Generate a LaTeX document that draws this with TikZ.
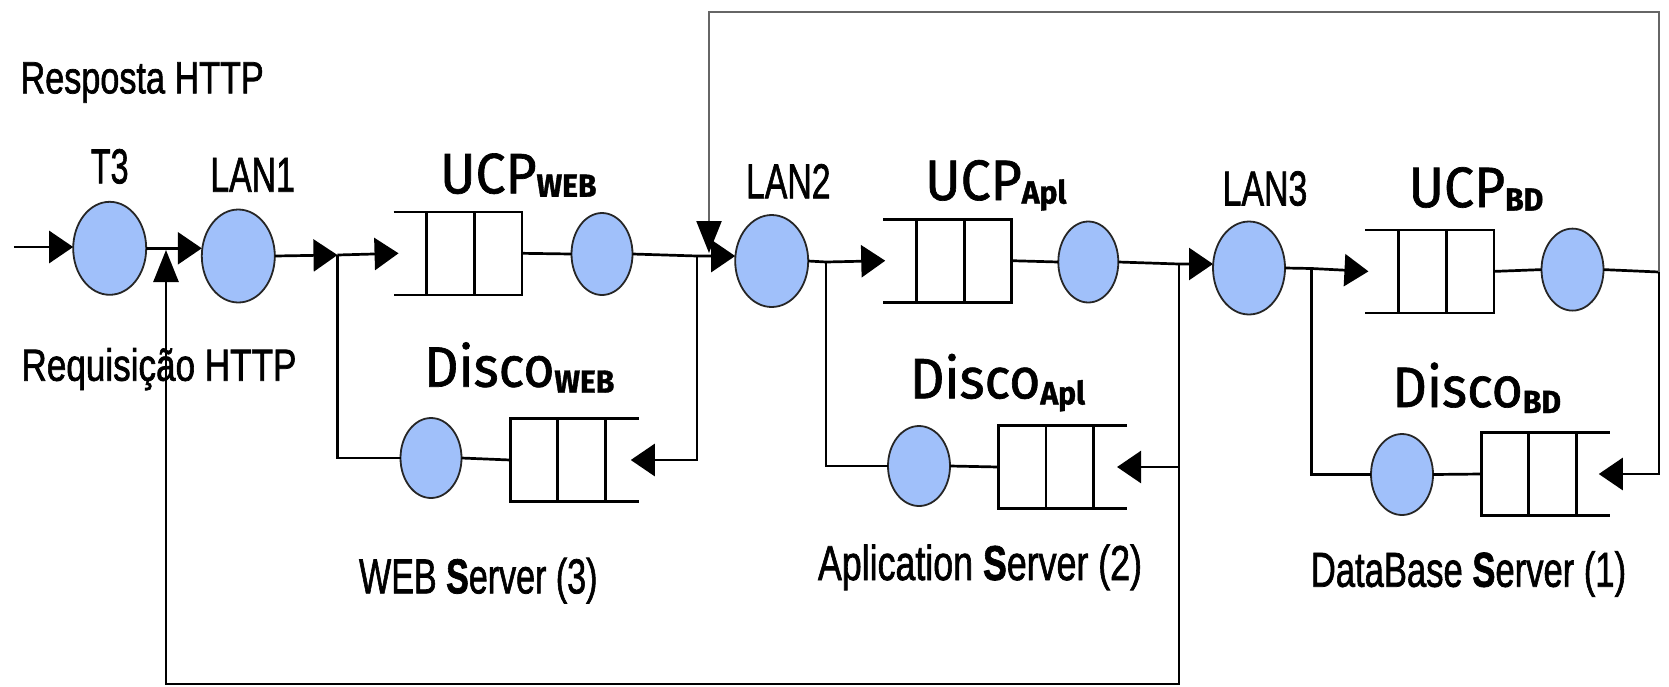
\documentclass[tikz,border=0pt]{standalone}
\usepackage{fontspec}
\setmainfont{Liberation Sans}
\newfontfamily\txtfont{Liberation Sans}[FakeBold=1.6]
\newfontfamily\labfont{Fira Sans}[FakeBold=1.2]
\usetikzlibrary{shapes.geometric,arrows.meta}
\definecolor{srvblue}{RGB}{160,192,250}

% queue with its open end on the left (arrivals come in from the left)
\newcommand\queueL[1]{%
  \draw[qline] (#1.north west) -- (#1.north east) -- (#1.south east) -- (#1.south west);
  \draw[qline] ([xshift=33pt]#1.north west) -- ([xshift=33pt]#1.south west);
  \draw[qline] ([xshift=-47.5pt]#1.north east) -- ([xshift=-47.5pt]#1.south east);}
% queue with its open end on the right (arrivals come in from the right)
\newcommand\queueR[1]{%
  \draw[qline] (#1.north east) -- (#1.north west) -- (#1.south west) -- (#1.south east);
  \draw[qline] ([xshift=47.5pt]#1.north west) -- ([xshift=47.5pt]#1.south west);
  \draw[qline] ([xshift=95pt]#1.north west) -- ([xshift=95pt]#1.south west);}

\begin{document}
\begin{tikzpicture}[x=1pt,y=-1pt,
  srv/.style={ellipse,draw=black!85,line width=1.8pt,fill=srvblue,inner sep=0pt,outer sep=0pt},
  queue/.style={rectangle,draw=none,minimum width=128.5pt,minimum height=83pt,inner sep=0pt,outer sep=0pt},
  qline/.style={line width=2.6pt,line join=miter},
  conn/.style={line width=2.7pt},
  fbl/.style={line width=2.2pt,draw=black!60},
  tip/.style={-{Triangle[length=24pt,width=32pt,color=black]}},
  vtip/.style={-{Triangle[length=32pt,width=25pt,color=black]}},
  plain/.style={inner sep=0pt,font=\txtfont\fontsize{49}{55}\selectfont,anchor=base},
  small/.style={inner sep=0pt,font=\txtfont\fontsize{45}{50}\selectfont,anchor=base},
  ucp/.style={inner sep=0pt,font=\labfont\fontsize{57}{60}\selectfont,anchor=base,xscale=0.94},
]
\useasboundingbox (0,0) rectangle (1669,686);

% ---- stations ----
\node[srv,minimum width=73pt,minimum height=93pt] (t3)   at (109.7,248.3) {};
\node[srv,minimum width=73pt,minimum height=93pt] (lan1) at (238.3,256) {};
\node[queue] (qw)  at (457.8,253.3) {};
\node[srv,minimum width=61pt,minimum height=82pt] (sw)   at (602,254) {};
\node[queue] (dqw) at (574.5,460) {};
\node[srv,minimum width=61pt,minimum height=80pt] (dsw)  at (431,458) {};
\node[srv,minimum width=73pt,minimum height=92pt] (lan2) at (771.7,261) {};
\node[queue] (qa)  at (947.5,260.7) {};
\node[srv,minimum width=60pt,minimum height=81pt] (sa)   at (1088.3,262) {};
\node[queue] (dqa) at (1062.8,467) {};
\node[srv,minimum width=62pt,minimum height=80pt] (dsa)  at (919,466) {};
\node[srv,minimum width=72pt,minimum height=93pt] (lan3) at (1249,268) {};
\node[queue] (qb)  at (1429.7,271.4) {};
\node[srv,minimum width=62pt,minimum height=82pt] (sb)   at (1572.5,269.6) {};
\node[queue] (dqb) at (1545.5,474) {};
\node[srv,minimum width=62pt,minimum height=81pt] (dsb)  at (1402,474.5) {};

\queueL{qw} \queueR{dqw}
\queueL{qa} \queueR{dqa}
\queueL{qb} \queueR{dqb}

% ---- junctions and corners ----
\coordinate (src)  at (13.8,247);
\coordinate (j1)   at (337.5,255);
\coordinate (j2)   at (697,256);
\coordinate (j3)   at (826,262);
\coordinate (j4)   at (1179,264);
\coordinate (j5)   at (1311.7,268.5);
\coordinate (j6)   at (1659,272);
\coordinate (tl)   at (709,12);
\coordinate (tr)   at (1659,12);
\coordinate (ftip) at (709,253);
\coordinate (bl)   at (166,684);
\coordinate (fb)   at (166,250);

% ---- flow ----
\draw[conn,tip] (src) -- (src -| t3.west);
\draw[conn,tip] (t3.east) -- (t3.east -| lan1.west);
\draw[conn,tip] (lan1.east) -- (j1);
\draw[conn,tip] (j1) -- ([xshift=5pt]qw.west);
\draw[conn] (qw.east) -- (sw.west);
\draw[conn,tip] (sw.east) -- (j2) -- (j2 -| lan2.west);
\draw[conn,tip] (j2) -- (j2 |- dqw) -- ([xshift=-8pt]dqw.east);
\draw[conn] (dqw.west) -- (dsw.east);
\draw[conn] (dsw.west) -- (dsw.west -| j1) -- (j1);

\draw[conn,tip] (lan2.east) -- (j3) -- ([xshift=2pt]qa.west);
\draw[conn] (qa.east) -- (sa.west);
\draw[conn,tip] (sa.east) -- (j4) -- (j4 -| lan3.west);
\draw[conn,tip] (j4) -- (j4 |- dqa) -- ([xshift=-10pt]dqa.east);
\draw[conn] (dqa.west) -- (dsa.east);
\draw[conn] (dsa.west) -- (dsa.west -| j3) -- (j3);

\draw[conn,tip] (lan3.east) -- (j5) -- ([xshift=3pt]qb.west);
\draw[conn] (qb.east) -- (sb.west);
\draw[conn] (sb.east) -- (j6);
\draw[conn,tip] (j6) -- (j6 |- dqb) -- ([xshift=-11pt]dqb.east);
\draw[conn] (dqb.west) -- (dsb.east);
\draw[conn] (dsb.west) -- (dsb.west -| j5) -- (j5);

% response loop over the top, request loop along the bottom
\draw[fbl,vtip] (j6) -- (tr) -- (tl) -- (ftip);
\draw[conn,vtip] (j4 |- dqa) -- (j4 |- bl) -- (bl) -- (fb);

% ---- labels ----
\node[small,anchor=base west,xscale=0.76] (resp) at (20.4,93.3) {Resposta HTTP};
\node[small,xscale=0.78] (req) at (159,380.7) {Requisição HTTP};
\node[plain,xscale=0.66] (lt3) at (109.7,183.3) {T3};
\node[plain,xscale=0.69] (llan1) at (252.6,191.7) {LAN1};
\node[plain,xscale=0.69] (llan2) at (788.3,198.3) {LAN2};
\node[plain,xscale=0.69] (llan3) at (1265,205.4) {LAN3};

\node[ucp] (lucpw) at (518.3,193.3) {UCP\raisebox{-3.5pt}{\fontsize{32}{32}\selectfont\bfseries WEB}};
\node[ucp] (lucpa) at (995.8,200) {UCP\raisebox{-3.5pt}{\fontsize{32}{32}\selectfont\bfseries Apl}};
\node[ucp] (lucpb) at (1475.9,207.1) {UCP\raisebox{-3.5pt}{\fontsize{32}{32}\selectfont\bfseries BD}};
\node[ucp] (ldw) at (519.2,386.7) {Disco\raisebox{-6pt}{\fontsize{32}{32}\selectfont\bfseries WEB}};
\node[ucp] (lda) at (997.5,398.3) {Disco\raisebox{-6pt}{\fontsize{32}{32}\selectfont\bfseries Apl}};
\node[ucp] (ldb) at (1476.7,407) {Disco\raisebox{-6pt}{\fontsize{32}{32}\selectfont\bfseries BD}};

\node[plain,xscale=0.695] (lws) at (478.3,593.3) {WEB \textbf{S}erver (3)};
\node[plain,xscale=0.73] (las) at (980,580) {Aplication \textbf{S}erver (2)};
\node[plain,xscale=0.706] (lds) at (1468.5,586.7) {DataBase \textbf{S}erver (1)};
\end{tikzpicture}
\end{document}
